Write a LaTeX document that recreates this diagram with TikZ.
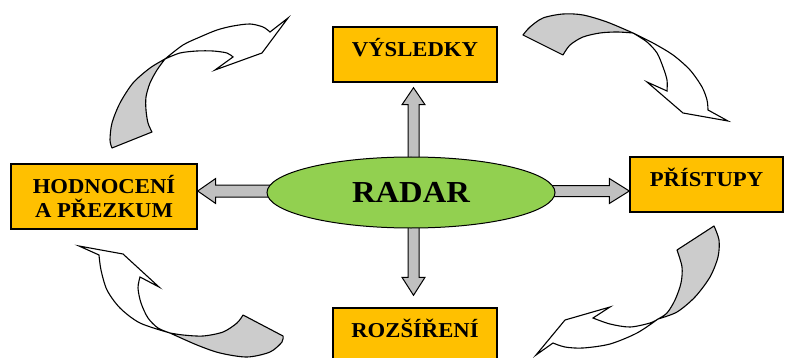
\documentclass[tikz,border=0pt]{standalone}
\usepackage{fontspec}
\setmainfont{Liberation Serif}
\newfontfamily\labelfont[FakeStretch=1.07]{Liberation Serif}
\usetikzlibrary{shapes.geometric,calc}
\definecolor{boxorange}{HTML}{FFC000}
\definecolor{radargreen}{HTML}{92D050}
\definecolor{shaftgray}{HTML}{C0C0C0}
\definecolor{backgray}{HTML}{CCCCCC}
\pgfdeclarelayer{back}
\pgfsetlayers{back,main}
\begin{document}
\begin{tikzpicture}[x=1pt,y=-1pt,
  stagebox/.style={draw=black, line width=1.4pt, fill=boxorange, inner sep=0pt,
    align=center, font=\labelfont\bfseries\fontsize{21.2}{24.5}\selectfont},
  oneline/.style={text height=14pt, text depth=10pt},
  hub/.style={ellipse, draw=black, line width=1pt, fill=radargreen, inner sep=0pt,
    font=\labelfont\bfseries\fontsize{30.5}{34}\selectfont},
  blockarrow/.style={draw=black, line width=1pt, fill=shaftgray, line join=miter},
  twistback/.style={draw=black, line width=1.1pt, fill=backgray, line join=round},
  twistfront/.style={draw=black, line width=1.1pt, fill=white, line join=miter},
]
\clip (0,0) rectangle (786,358);

% the four stages and the hub
\node[stagebox, oneline, minimum width=164pt, minimum height=55pt] (vys) at (415,54.5) {VÝSLEDKY};
\node[stagebox, oneline, minimum width=153pt, minimum height=55pt] (pris) at (706.5,184.5) {PŘÍSTUPY};
\node[stagebox, minimum width=186pt, minimum height=65pt] (hod) at (104,196.5) {HODNOCENÍ\\A PŘEZKUM};
\node[stagebox, oneline, minimum width=164pt, minimum height=55pt] (roz) at (415,335.5) {ROZŠÍŘENÍ};
\node[hub, minimum width=288pt, minimum height=71pt] (radar) at (411,192.5) {RADAR};

% block arrows from the hub to the stages (tails hidden under the hub)
\begin{pgfonlayer}{back}
  % up
  \coordinate (ut) at ($(vys.south)+(-1.5,5)$);
  \coordinate (ub) at ($(ut |- radar.north)+(0,10)$);
  \filldraw[blockarrow] ($(ub)+(-5.5,0)$) -- ($(ut)+(-5.5,17)$) -- ($(ut)+(-11.5,17)$)
    -- (ut) -- ($(ut)+(11.5,17)$) -- ($(ut)+(5.5,17)$) -- ($(ub)+(5.5,0)$) -- cycle;
  % down
  \coordinate (dt) at ($(roz.north)+(-1.5,-12)$);
  \coordinate (db) at ($(dt |- radar.south)+(0,-10)$);
  \filldraw[blockarrow] ($(db)+(-5.5,0)$) -- ($(dt)+(-5.5,-18)$) -- ($(dt)+(-11.5,-18)$)
    -- (dt) -- ($(dt)+(11.5,-18)$) -- ($(dt)+(5.5,-18)$) -- ($(db)+(5.5,0)$) -- cycle;
  % right
  \coordinate (rt) at ($(pris.west |- radar.center)+(0,-1.5)$);
  \coordinate (rb) at ($(radar.east |- rt)+(-12,0)$);
  \filldraw[blockarrow] ($(rb)+(0,-5.5)$) -- ($(rt)+(-20,-5.5)$) -- ($(rt)+(-20,-12.5)$)
    -- (rt) -- ($(rt)+(-20,12.5)$) -- ($(rt)+(-20,5.5)$) -- ($(rb)+(0,5.5)$) -- cycle;
  % left
  \coordinate (lt) at ($(hod.east |- radar.center)+(0,-1.5)$);
  \coordinate (lb) at ($(radar.west |- lt)+(12,0)$);
  \filldraw[blockarrow] ($(lb)+(0,-6)$) -- ($(lt)+(18,-6)$) -- ($(lt)+(18,-12.5)$)
    -- (lt) -- ($(lt)+(18,12.5)$) -- ($(lt)+(18,6)$) -- ($(lb)+(0,6)$) -- cycle;
\end{pgfonlayer}

% twisted circular arrows of the cycle
% upper left
\filldraw[twistback] plot[smooth] coordinates {(112,148) (110,140) (112,123) (120,103) (133,83) (150,68) (165,59)}
  -- plot[smooth] coordinates {(165,59) (157,70) (150,83) (146,97) (146,110) (148,123) (152,132)} -- cycle;
\filldraw[twistfront] plot[smooth] coordinates {(165,59) (183,45) (200,37) (217,30) (233,26) (250,24) (263,27) (270,32)}
  -- (288,18) -- (262,53) -- (215,70) -- (233,57)
  -- plot[smooth] coordinates {(233,57) (227,53) (213,51) (197,51) (180,53) (165,59)} -- cycle;

% upper right
\filldraw[twistback] plot[smooth] coordinates {(523,35) (530,27) (543,18) (563,14) (583,15) (607,22) (633,33)}
  -- plot[smooth] coordinates {(633,33) (617,32) (600,33) (583,37) (570,45) (563,55)} -- cycle;
\filldraw[twistfront] plot[smooth] coordinates {(633,33) (653,43) (673,55) (690,70) (702,87) (707,100) (708,110)}
  -- (728,121) -- (683,113) -- (647,82) -- (667,91)
  -- plot[smooth] coordinates {(667,91) (667,80) (663,67) (657,53) (647,42) (633,33)} -- cycle;

% lower right
\filldraw[twistback] plot[smooth] coordinates {(714,226) (719,240) (718,257) (710,277) (695,297) (677,312) (658,319)}
  -- plot[smooth] coordinates {(658,319) (667,313) (675,300) (681,283) (682,267) (677,250)} -- cycle;
\filldraw[twistfront] plot[smooth] coordinates {(658,319) (637,333) (610,344) (583,348) (565,347) (553,343)}
  -- (536,355) -- (565,320) -- (610,307) -- (593,318)
  -- plot[smooth] coordinates {(593,318) (610,324) (630,327) (650,323) (658,319)} -- cycle;

% lower left
\filldraw[twistback] plot[smooth] coordinates {(243,315) (237,323) (223,332) (203,336) (183,335) (170,333)}
  -- plot[smooth] coordinates {(170,333) (197,345) (220,353) (247,357) (270,352) (282,342) (283,336)} -- cycle;
\filldraw[twistfront] plot[smooth] coordinates {(170,333) (140,323) (120,308) (107,290) (101,270) (99,255)}
  -- (79,246) -- (123,254) -- (159,287) -- (140,277)
  -- plot[smooth] coordinates {(140,277) (138,288) (141,303) (148,318) (158,328) (170,333)} -- cycle;
\end{tikzpicture}
\end{document}
